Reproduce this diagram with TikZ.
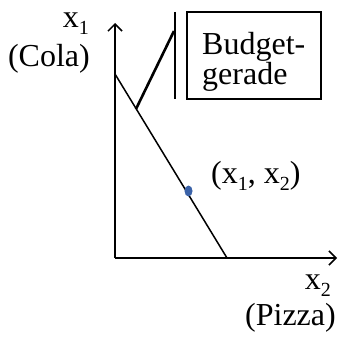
\documentclass[tikz,border=0pt]{standalone}
\usepackage{fontspec}
\setmainfont{Liberation Serif}
\usetikzlibrary{arrows.meta,shapes.geometric}
\definecolor{dotblue}{HTML}{3A62A8}
\newcommand\lowsub[1]{\raisebox{-7pt}{\fontsize{20}{20}\selectfont #1}}
\begin{document}
\begin{tikzpicture}[x=1pt,y=-1pt,
  lbl/.style={inner sep=0pt,font=\fontsize{32}{29.5}\selectfont},
  axis/.style={line width=1.5pt,-{Straight Barb[length=7pt,width=14pt,line width=1.5pt]}},
  thinline/.style={line width=1.5pt},
  thickline/.style={line width=2.6pt}]
\useasboundingbox (0,0) rectangle (337,339);
\coordinate (O) at (115,258);
\coordinate (ytip) at (115,23);
\coordinate (xtip) at (337,258);
\coordinate (A) at (115,74);
\coordinate (B) at (227,258);
\coordinate (P) at (136,109);
\coordinate (Q) at (174,31);
\coordinate (barT) at (175,12);
\coordinate (barB) at (175,99);
\draw[axis] (O) -- (ytip);
\draw[axis] (O) -- (xtip);
\draw[thinline] (A) -- (B);
\draw[thickline] (P) -- (Q);
\draw[thickline] (barT) -- (barB);
\node[draw,line width=2.3pt,minimum width=134pt,minimum height=87pt,inner sep=0pt] (box) at (254,55.5) {};
\node[lbl,align=left,anchor=west] (boxtext) at (202,62) {Budget-\\gerade};
\node[fill=dotblue,ellipse,minimum width=8pt,minimum height=11pt,inner sep=0pt] (dot) at (188.5,191) {};
\node[lbl,anchor=base east] (x1) at (89,28) {x\lowsub{1}};
\node[lbl,anchor=base east] (cola) at (90,67) {(Cola)};
\node[lbl,anchor=base east] (x2) at (331,289.5) {x\lowsub{2}};
\node[lbl,anchor=base east] (pizza) at (336,325) {(Pizza)};
\node[lbl,anchor=base west] (pt) at (211,183) {(x\lowsub{1}, x\lowsub{2})};
\end{tikzpicture}
\end{document}
